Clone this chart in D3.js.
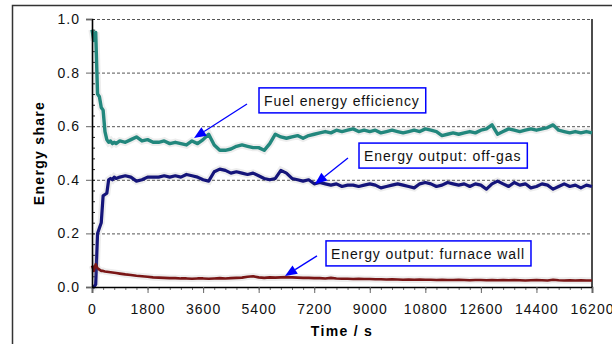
<!DOCTYPE html>
<html>
<head>
<meta charset="utf-8">
<script src="https://cdn.jsdelivr.net/npm/d3@7"></script>
<style>
  body { margin: 0; background: #fff; }
  svg { display: block; font-family: "Liberation Sans", Arial, sans-serif; }
</style>
</head>
<body>
<div id="elements"></div>
<script>
'use strict';
// energy shares over time: efficiency, off-gas, furnace wall

var times = [0, 60, 120, 180, 240, 300, 360, 420, 480, 540, 600, 660, 720, 780,
    900, 1080, 1260, 1440, 1620, 1800, 1980, 2160, 2340, 2520, 2700, 2880, 3060, 3240, 3420, 3600,
    3780, 3960, 4140, 4320, 4500, 4680, 4860, 5040, 5220, 5400, 5580, 5760, 5940, 6120, 6300,
    6480, 6660, 6840, 7020, 7200, 7380, 7560, 7740, 7920, 8100, 8280, 8460, 8640, 8820, 9000,
    9180, 9360, 9540, 9720, 9900, 10080, 10260, 10440, 10620, 10800, 10980, 11160, 11340, 11520, 11700,
    11880, 12060, 12240, 12420, 12600, 12780, 12960, 13140, 13320, 13500, 13680, 13860, 14040, 14220, 14400,
    14580, 14760, 14940, 15120, 15300, 15480, 15660, 15840, 16020, 16200];

var fuelEfficiency = [0.96, 0.92, 0.95, 0.72, 0.71, 0.67, 0.66, 0.58, 0.55, 0.54, 0.545, 0.535, 0.54, 0.535,
    0.545, 0.54, 0.55, 0.56, 0.545, 0.55, 0.54, 0.54, 0.545, 0.535, 0.54, 0.535, 0.53, 0.545, 0.535, 0.55,
    0.57, 0.53, 0.51, 0.51, 0.515, 0.525, 0.53, 0.525, 0.52, 0.52, 0.51, 0.535, 0.57, 0.56, 0.555,
    0.56, 0.565, 0.555, 0.565, 0.57, 0.575, 0.58, 0.575, 0.585, 0.58, 0.585, 0.59, 0.58, 0.585, 0.58,
    0.585, 0.575, 0.58, 0.585, 0.58, 0.575, 0.58, 0.585, 0.58, 0.59, 0.585, 0.58, 0.565, 0.57, 0.575,
    0.57, 0.575, 0.58, 0.575, 0.585, 0.59, 0.605, 0.57, 0.58, 0.59, 0.585, 0.58, 0.585, 0.59, 0.585,
    0.59, 0.595, 0.605, 0.585, 0.58, 0.575, 0.58, 0.575, 0.58, 0.575];

var offGas = [0, 0, 0.01, 0.2, 0.22, 0.24, 0.34, 0.345, 0.35, 0.4, 0.405, 0.4, 0.41, 0.405,
    0.41, 0.415, 0.41, 0.395, 0.4, 0.41, 0.41, 0.41, 0.415, 0.41, 0.415, 0.41, 0.42, 0.415, 0.41, 0.4,
    0.395, 0.43, 0.44, 0.435, 0.425, 0.43, 0.425, 0.42, 0.425, 0.415, 0.405, 0.4, 0.405, 0.435, 0.425,
    0.405, 0.4, 0.395, 0.4, 0.385, 0.39, 0.385, 0.38, 0.385, 0.375, 0.38, 0.38, 0.375, 0.38, 0.385,
    0.38, 0.37, 0.375, 0.38, 0.385, 0.38, 0.375, 0.37, 0.385, 0.39, 0.385, 0.375, 0.38, 0.39, 0.385,
    0.38, 0.385, 0.375, 0.385, 0.38, 0.365, 0.385, 0.395, 0.385, 0.375, 0.39, 0.38, 0.385, 0.37, 0.375,
    0.385, 0.38, 0.365, 0.375, 0.385, 0.375, 0.38, 0.37, 0.38, 0.375];

var furnaceWall = [0.08, 0.06, 0.085, 0.07, 0.065, 0.06, 0.06, 0.058, 0.057, 0.056, 0.055, 0.054, 0.053, 0.052,
    0.05, 0.047, 0.045, 0.042, 0.04, 0.038, 0.036, 0.035, 0.034, 0.033, 0.033, 0.032, 0.032, 0.031, 0.032, 0.032,
    0.031, 0.032, 0.033, 0.032, 0.033, 0.034, 0.035, 0.038, 0.04, 0.036, 0.034, 0.036, 0.035, 0.036, 0.037,
    0.036, 0.035, 0.034, 0.034, 0.033, 0.033, 0.032, 0.034, 0.032, 0.031, 0.031, 0.03, 0.031, 0.03, 0.03,
    0.029, 0.029, 0.028, 0.029, 0.028, 0.027, 0.028, 0.027, 0.028, 0.027, 0.027, 0.026, 0.027, 0.026, 0.026,
    0.027, 0.026, 0.025, 0.026, 0.026, 0.025, 0.026, 0.025, 0.026, 0.025, 0.026, 0.025, 0.024, 0.025, 0.026,
    0.025, 0.024, 0.027, 0.025, 0.024, 0.025, 0.024, 0.025, 0.024, 0.024];

var xTickValues = [0, 1800, 3600, 5400, 7200, 9000, 10800, 12600, 14400, 16200];
var yTickValues = [0, 0.2, 0.4, 0.6, 0.8, 1.0];

// annotation boxes and arrows, in data units
var labels = ["Fuel energy efficiency", "Energy output: off-gas", "Energy output: furnace wall"];
var labelAnchors = [[5411, 0.743], [8651, 0.537], [7582, 0.172]];
var arrowFrom = [[5022, 0.683], [8294, 0.481], [7290, 0.116]];
var arrowTo = [[3305, 0.556], [7225, 0.384], [6253, 0.041]];

var series = [
    {name: "fuel", values: fuelEfficiency, color: "#22877d", width: 3.4},
    {name: "offgas", values: offGas, color: "#15157a", width: 3.2},
    {name: "wall", values: furnaceWall, color: "#7a1616", width: 2.6}
];

var canvas_width = 612, canvas_height = 344;
var svg = d3.select("#elements").append("svg")
    .attr("width", canvas_width)
    .attr("height", canvas_height);

// outer frame, cut off at the right and bottom
svg.append("rect")
    .attr("x", 12.5).attr("y", 5.5)
    .attr("width", 640).attr("height", 400)
    .attr("fill", "none")
    .attr("stroke", "#333")
    .attr("stroke-width", 1.5);

var margin = {top: 19, right: 20, bottom: 57, left: 92};
var width = canvas_width - margin.left - margin.right;
var height = canvas_height - margin.top - margin.bottom;
var g = svg.append("g").attr("transform", "translate(" + margin.left + "," + margin.top + ")");

var x = d3.scaleLinear().domain([0, 16200]).range([0, width]);
var y = d3.scaleLinear().domain([0, 1]).range([height, 0]);

// dashed grid
g.append("g")
    .selectAll("line")
    .data(yTickValues.filter(function(d) { return d > 0; }))
    .enter().append("line")
        .attr("x1", 0).attr("x2", width)
        .attr("y1", function(d) { return y(d) + 0.5; })
        .attr("y2", function(d) { return y(d) + 0.5; })
        .attr("stroke", "#555")
        .attr("stroke-width", 1)
        .attr("stroke-dasharray", "3,2");

// right border of plot
g.append("line")
    .attr("x1", width).attr("x2", width)
    .attr("y1", 0).attr("y2", height)
    .attr("stroke", "#111")
    .attr("stroke-width", 1.5);

// minor ticks
g.append("g")
    .attr("transform", "translate(0," + height + ")")
    .call(d3.axisBottom(x).tickValues(d3.range(0, 16201, 360)).tickSize(3).tickFormat(""))
    .call(function(a) { a.select(".domain").remove(); a.selectAll("line").attr("stroke", "#777"); });
g.append("g")
    .call(d3.axisRight(y).tickValues(d3.range(0, 1.001, 0.04)).tickSize(3).tickFormat(""))
    .call(function(a) { a.select(".domain").remove(); a.selectAll("line").attr("stroke", "#222"); });

// series
var line = d3.line()
    .x(function(d) { return x(d[0]); })
    .y(function(d) { return y(d[1]); });

series.forEach(function(s) {
    var pts = times.map(function(t, i) { return [t, s.values[i]]; });
    g.append("path")
        .attr("d", line(pts))
        .attr("fill", "none")
        .attr("stroke", "#888")
        .attr("stroke-opacity", 0.15)
        .attr("stroke-width", s.width + 4);
    g.append("path")
        .attr("d", line(pts))
        .attr("fill", "none")
        .attr("stroke", s.color)
        .attr("stroke-width", s.width)
        .attr("stroke-linejoin", "round");
});

// axes
var axisBottom = g.append("g")
    .attr("transform", "translate(0," + height + ")")
    .call(d3.axisBottom(x).tickValues(xTickValues).tickSize(6).tickPadding(11).tickFormat(d3.format("d")));
var axisLeft = g.append("g")
    .call(d3.axisLeft(y).tickValues(yTickValues).tickSize(6).tickPadding(6).tickFormat(d3.format(".1f")));

[axisBottom, axisLeft].forEach(function(a) {
    a.select(".domain").attr("stroke", "#000").attr("stroke-width", 1.6);
    a.selectAll(".tick line").attr("stroke", "#666");
    a.selectAll("text")
        .attr("fill", "#111")
        .style("font-size", "14px")
        .style("letter-spacing", "1px");
});

// axis titles
g.append("text")
    .attr("x", width / 2)
    .attr("y", height + 49)
    .attr("text-anchor", "middle")
    .style("font-size", "14px")
    .style("font-weight", "bold")
    .style("letter-spacing", "1.3px")
    .text("Time / s");

g.append("text")
    .attr("transform", "rotate(-90)")
    .attr("x", -height / 2)
    .attr("y", -48)
    .attr("text-anchor", "middle")
    .style("font-size", "14px")
    .style("font-weight", "bold")
    .style("letter-spacing", "1.3px")
    .text("Energy share");

// arrows
var arrowColor = "#0000ff";
labels.forEach(function(label, i) {
    var x0 = x(arrowFrom[i][0]), y0 = y(arrowFrom[i][1]);
    var x1 = x(arrowTo[i][0]), y1 = y(arrowTo[i][1]);
    var ang = Math.atan2(y1 - y0, x1 - x0);
    var len = 12, half = 5;
    var bx = x1 - len * Math.cos(ang), by = y1 - len * Math.sin(ang);
    g.append("line")
        .attr("x1", x0).attr("y1", y0)
        .attr("x2", bx).attr("y2", by)
        .attr("stroke", arrowColor)
        .attr("stroke-width", 1.3);
    g.append("path")
        .attr("d", "M" + x1 + "," + y1 +
            "L" + (bx + half * Math.sin(ang)) + "," + (by - half * Math.cos(ang)) +
            "L" + (bx - half * Math.sin(ang)) + "," + (by + half * Math.cos(ang)) + "Z")
        .attr("fill", arrowColor);
});

// label boxes
labels.forEach(function(label, i) {
    var lx = x(labelAnchors[i][0]), ly = y(labelAnchors[i][1]);
    var box = g.append("g").attr("transform", "translate(" + lx + "," + ly + ")");
    var rect = box.append("rect")
        .attr("fill", "#fff")
        .attr("stroke", arrowColor)
        .attr("stroke-width", 1.5);
    var txt = box.append("text")
        .attr("x", 5)
        .attr("y", 18)
        .attr("fill", "#111")
        .style("font-size", "14px")
        .style("letter-spacing", "0.9px")
        .text(label);
    var w = txt.node().getComputedTextLength();
    rect.attr("width", w + 11).attr("height", 25);
});
</script>
</body>
</html>
